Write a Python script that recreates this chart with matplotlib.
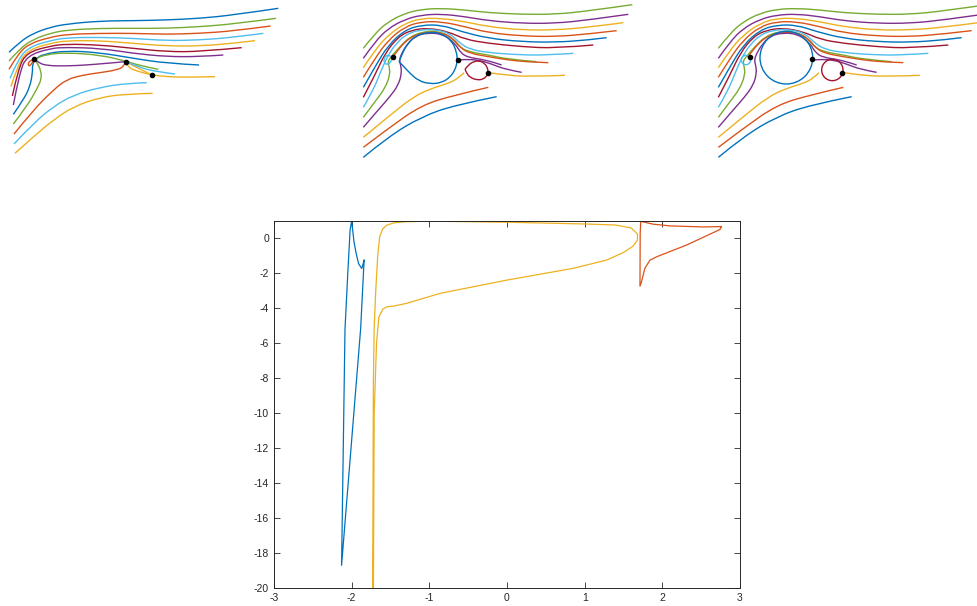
import matplotlib
matplotlib.use("Agg")
import matplotlib.pyplot as plt
from matplotlib.patches import Circle, PathPatch
from matplotlib.path import Path

plt.rcParams["font.family"] = ["Liberation Sans", "DejaVu Sans"]
plt.rcParams["axes.unicode_minus"] = False

# MATLAB default colour order
BLUE, ORANGE, YELLOW, PURPLE = "#0072BD", "#D95319", "#EDB120", "#7E2F8E"
GREEN, LBLUE, DRED = "#77AC30", "#4DBEEE", "#A2142F"

# ---------------- panel 1 streamlines (panel units) ----------------
p1_lines = [
    (BLUE, [27, 60, 100, 150, 200, 300, 400, 500, 600, 700, 835], [157, 125, 100, 82, 72, 63, 62, 60, 55, 45, 25]),
    (GREEN, [27, 60, 100, 150, 200, 300, 400, 500, 600, 700, 828], [183, 145, 118, 100, 90, 85, 85, 85, 80, 72, 55]),
    (ORANGE, [27, 55, 90, 150, 200, 300, 400, 500, 600, 700, 812], [208, 160, 130, 112, 103, 100, 100, 103, 100, 93, 78]),
    (LBLUE, [30, 55, 90, 150, 200, 300, 400, 500, 600, 700, 790], [235, 175, 140, 122, 113, 112, 115, 122, 120, 112, 100]),
    (YELLOW, [33, 55, 85, 150, 200, 300, 400, 500, 600, 700, 765], [260, 190, 150, 130, 122, 122, 130, 138, 138, 130, 122]),
    (DRED, [37, 55, 80, 150, 200, 300, 400, 500, 600, 725], [288, 205, 158, 138, 132, 135, 145, 155, 155, 143]),
    (PURPLE, [40, 58, 80, 150, 200, 300, 400, 500, 600, 670], [315, 220, 168, 145, 142, 145, 160, 170, 170, 165]),
    (BLUE, [40, 70, 90, 98, 97, 105, 130, 200, 300, 400, 500, 597], [343, 300, 260, 215, 195, 178, 162, 152, 158, 175, 190, 195]),
    (GREEN, [40, 80, 112, 125, 122, 112, 103, 140, 200, 300, 377, 420, 475], [372, 320, 265, 235, 210, 190, 177, 163, 158, 165, 183, 197, 208]),
    (ORANGE, [42, 100, 160, 200, 250, 300, 350, 372, 377], [402, 330, 270, 238, 225, 218, 210, 200, 185]),
    (LBLUE, [42, 100, 160, 220, 300, 380, 440], [432, 370, 320, 285, 262, 250, 248]),
    (YELLOW, [45, 100, 160, 220, 300, 380, 458], [460, 410, 360, 320, 292, 282, 280]),
    (PURPLE, [103, 115, 140, 200, 260, 320, 377], [177, 188, 197, 198, 195, 190, 185]),
    (ORANGE, [103, 95, 86, 84, 92, 103], [177, 180, 186, 196, 198, 177]),
    (YELLOW, [377, 410, 455], [185, 202, 225]),
    (YELLOW, [377, 385, 410, 455, 500, 560, 645], [188, 203, 213, 225, 230, 232, 230]),
    (LBLUE, [377, 420, 470, 525], [185, 203, 215, 222]),
]
p1_dots_x = [103, 377, 455]
p1_dots_y = [177, 185, 225]

# ---------------- panels 2/3 streamlines (panel units) ----------------
p23_lines = [
    (GREEN, [25, 60, 100, 150, 200, 260, 330, 400, 500, 600, 700, 832], [145, 100, 65, 40, 28, 25, 30, 38, 43, 43, 33, 14]),
    (PURPLE, [25, 60, 100, 150, 200, 260, 330, 400, 500, 600, 700, 820], [175, 125, 85, 58, 45, 42, 50, 62, 70, 70, 60, 43]),
    (YELLOW, [25, 60, 100, 150, 200, 260, 330, 400, 500, 600, 700, 805], [203, 150, 105, 70, 55, 55, 65, 80, 90, 90, 82, 68]),
    (ORANGE, [25, 60, 100, 150, 200, 260, 330, 400, 500, 600, 700, 785], [232, 175, 120, 80, 65, 65, 80, 98, 108, 110, 102, 92]),
    (BLUE, [25, 60, 100, 150, 200, 260, 320, 400, 500, 600, 700, 755], [262, 200, 135, 90, 75, 75, 95, 115, 125, 127, 120, 113]),
    (DRED, [25, 60, 90, 130, 170, 220, 280, 330, 400, 500, 600, 715], [292, 225, 160, 110, 90, 84, 95, 118, 130, 140, 145, 135]),
    (LBLUE, [25, 55, 75, 88, 100, 120, 150, 190, 240, 285, 315, 345, 400, 500, 580, 655], [322, 270, 220, 190, 165, 135, 105, 90, 88, 100, 130, 148, 158, 165, 165, 160]),
    (GREEN, [25, 60, 90, 105, 103, 98, 110, 135, 165, 205, 245, 285, 312, 340, 400, 460, 545], [352, 305, 265, 225, 200, 185, 168, 140, 110, 95, 93, 108, 140, 155, 165, 178, 185]),
    (ORANGE, [113, 125, 150, 180, 220, 260, 295, 318, 345, 400, 460, 520, 580], [172, 155, 125, 105, 96, 98, 115, 145, 160, 170, 180, 186, 188]),
    (PURPLE, [25, 65, 105, 130, 140, 137, 133, 140, 155, 180, 220, 265, 300, 318, 340, 380, 420, 440], [382, 335, 290, 255, 220, 195, 180, 160, 135, 108, 98, 103, 130, 160, 172, 178, 188, 195]),
    (PURPLE, [308, 330, 370, 410, 450, 500], [180, 178, 180, 192, 208, 217]),
    (YELLOW, [25, 100, 175, 230, 280, 310, 327], [412, 350, 290, 265, 250, 235, 218]),
    (ORANGE, [25, 100, 200, 300, 400], [442, 385, 315, 285, 262]),
    (BLUE, [25, 100, 200, 300, 425], [472, 410, 350, 315, 290]),
    (YELLOW, [400, 450, 520, 630], [218, 225, 230, 226]),
]
# panel 2 body outlines (teardrops, start/end at the cusp)
p2_body_x = [132, 142, 155, 180, 220, 260, 290, 305, 307, 300, 285, 260, 225, 190, 165, 145, 132]
p2_body_y = [185, 160, 135, 108, 96, 100, 122, 155, 185, 210, 232, 248, 252, 242, 220, 198, 185]
p2_small_x = [330, 340, 355, 372, 390, 400, 398, 385, 365, 345, 335, 330]
p2_small_y = [208, 195, 185, 182, 190, 210, 225, 238, 240, 232, 220, 208]
p2_loop_x = [113, 104, 92, 86, 89, 98, 108, 113]
p2_loop_y = [172, 166, 167, 178, 190, 194, 186, 172]
p2_dots_x = [113, 308, 400]
p2_dots_y = [172, 180, 218]
# panel 3 bodies are circles: (centre x, centre y, radius, colour)
p3_circles = [(229, 173, 79, BLUE), (367, 210, 32, DRED), (108, 180, 14, LBLUE)]
p3_dots_x = [120, 307, 397]
p3_dots_y = [170, 177, 218]

# ---------------- bottom plot ----------------
blue_x = [-1.84, -1.87, -1.91, -1.94, -1.97, -1.99, -2.0, -2.02, -2.05, -2.086, -2.13, -1.884, -1.84]
blue_y = [-1.25, -1.72, -1.45, -0.9, -0.2, 0.6, 1.0, 0.5, -2.0, -5.2, -18.7, -5.14, -1.25]
yel_x = [-1.73, -1.72, -1.71, -1.69, -1.665, -1.64, -1.6, -1.55, -1.45, -1.3, -1.0, 0.0, 1.0, 1.4, 1.6,
         1.68, 1.68, 1.62, 1.5, 1.28, 0.85, 0.0, -0.86, -1.29, -1.46, -1.55, -1.6, -1.65, -1.68, -1.71, -1.72]
yel_y = [-20, -8, -5.1, -3.0, -1.0, 0.1, 0.55, 0.76, 0.9, 0.96, 0.99, 0.93, 0.83, 0.77, 0.6,
         0.25, -0.1, -0.45, -0.8, -1.24, -1.71, -2.38, -3.14, -3.71, -3.87, -3.91, -4.05, -4.5, -6.0, -10.0, -20]
org_x = [2.76, 2.525, 2.1, 1.88, 1.75, 1.722, 1.715, 1.712, 1.73, 1.775, 1.84, 1.925, 2.31, 2.74, 2.76]
org_y = [0.68, 0.66, 0.72, 0.82, 0.95, 0.99, 0.3, -2.73, -2.5, -1.71, -1.24, -1.05, -0.38, 0.51, 0.68]

W, H = 978, 606
fig = plt.figure(figsize=(W / 100, H / 100), dpi=100)


def panel(px0, px1, py1):
    ax = fig.add_axes([px0 / W, 1 - py1 / H, (px1 - px0) / W, py1 / H])
    ax.set_xlim(0, (px1 - px0) * 3)
    ax.set_ylim(py1 * 3, 0)
    ax.axis("off")
    return ax


def smooth(ax, xs, ys, color):
    # quadratic bezier through midpoints: the estimated points act as controls
    pts = list(zip(xs, ys))
    verts, codes = [pts[0]], [Path.MOVETO]
    for i in range(1, len(pts) - 1):
        end = pts[-1] if i == len(pts) - 2 else ((pts[i][0] + pts[i + 1][0]) / 2, (pts[i][1] + pts[i + 1][1]) / 2)
        verts += [pts[i], end]
        codes += [Path.CURVE3, Path.CURVE3]
    if len(pts) == 2:
        verts.append(pts[1])
        codes.append(Path.LINETO)
    ax.add_patch(PathPatch(Path(verts, codes), fill=False, ec=color, lw=1.0))


ax1 = panel(0, 300, 170)
for c, xs, ys in p1_lines:
    smooth(ax1, xs, ys, c)
ax1.plot(p1_dots_x, p1_dots_y, "k.", ms=6)

ax2 = panel(355, 645, 170)
for c, xs, ys in p23_lines:
    smooth(ax2, xs, ys, c)
smooth(ax2, p2_body_x, p2_body_y, BLUE)
smooth(ax2, p2_small_x, p2_small_y, DRED)
smooth(ax2, p2_loop_x, p2_loop_y, LBLUE)
ax2.plot(p2_dots_x, p2_dots_y, "k.", ms=6)

ax3 = panel(710, 978, 170)
for c, xs, ys in p23_lines:
    smooth(ax3, xs, ys, c)
for cx, cy, r, c in p3_circles:
    ax3.add_patch(Circle((cx, cy), r, fill=False, ec=c, lw=1.0))
ax3.plot(p3_dots_x, p3_dots_y, "k.", ms=6)

axb = fig.add_axes([274 / W, 1 - 588 / H, (740 - 274) / W, (588 - 221) / H])
axb.plot(blue_x, blue_y, color=BLUE, lw=0.9)
axb.plot(yel_x, yel_y, color=YELLOW, lw=0.9)
axb.plot(org_x, org_y, color=ORANGE, lw=0.9)
axb.set_xlim(-3, 3)
axb.set_ylim(-20, 1)
axb.set_xticks(range(-3, 4))
axb.set_yticks(range(-20, 1, 2))
axb.tick_params(direction="in", top=True, right=True, length=4, width=0.6,
                labelsize=7.5, colors="#262626")
for s in axb.spines.values():
    s.set_linewidth(0.7)
    s.set_color("#262626")

fig.savefig("out.png", dpi=100)
